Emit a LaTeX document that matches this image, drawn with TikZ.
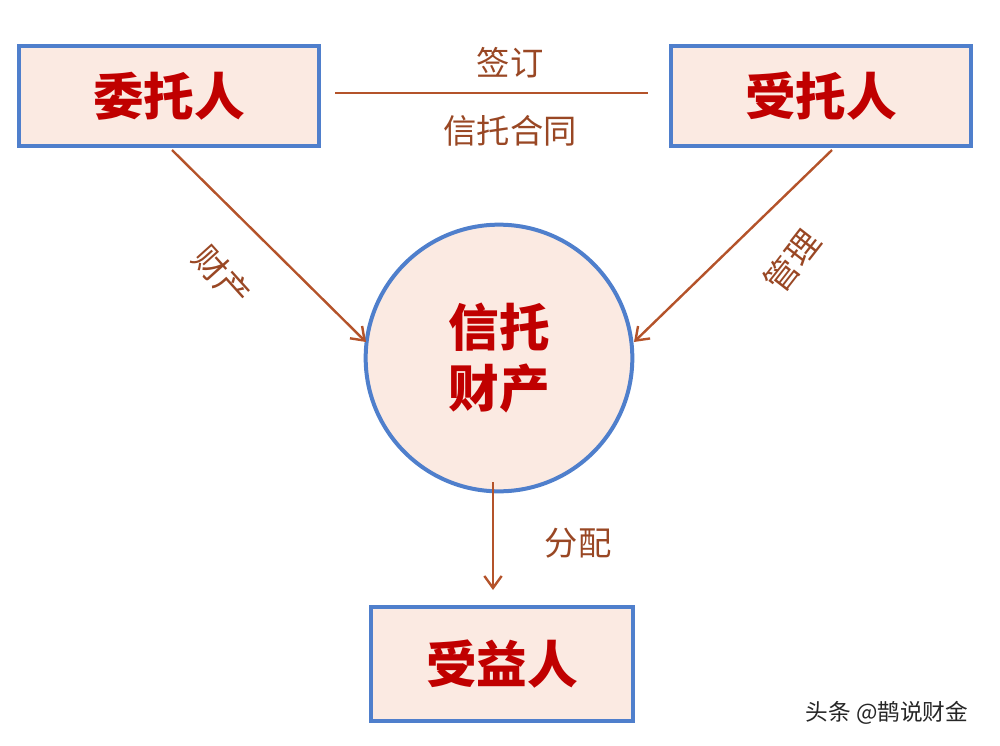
\documentclass[tikz,border=0pt]{standalone}
\usepackage{fontspec}
\usetikzlibrary{arrows.meta}
\newfontfamily\cjk{Noto Sans CJK SC}
\definecolor{bfill}{HTML}{FBEAE2}
\definecolor{bline}{HTML}{4F7FCC}
\definecolor{tred}{HTML}{C00000}
\definecolor{abrown}{HTML}{B4532A}
\begin{document}
\begin{tikzpicture}[x=0.75pt,y=-0.75pt,
  box/.style={draw=bline,line width=3pt,fill=bfill,font=\cjk\bfseries\fontsize{38}{42}\selectfont,text=tred},
  arr/.style={draw=abrown,line width=1.8pt,-{Straight Barb[length=9pt,width=13pt]}},
  lbl/.style={font=\cjk\fontsize{25}{28}\selectfont,text=abrown!85!black}]
\useasboundingbox (0,0) rectangle (1000,746);
\node[box,minimum width=225pt,minimum height=75pt] (wt) at (169,96) {委托人};
\node[box,minimum width=225pt,minimum height=75pt] (st) at (821,96) {受托人};
\node[box,circle,minimum size=200pt,inner sep=0pt,align=center,font=\cjk\bfseries\fontsize{38}{46}\selectfont] (cc) at (499,358) {信托\\财产};
\node[box,minimum width=197pt,minimum height=85pt] (sy) at (502,664) {受益人};
\draw[abrown,line width=1.8pt] (335,93) coordinate (l1) -- (648,93) coordinate (l2);
\node[lbl] (qd) at (510,63) {签订};
\node[lbl] (xt) at (510,131) {信托合同};
\coordinate (s1) at (172,150);
\coordinate (s2) at (832,150);
\coordinate (s3) at (493,482);
\coordinate (e3) at (493,590);
\coordinate (e1) at (366,342);
\coordinate (e2) at (634,342);
\draw[arr] (s1) -- (e1);
\draw[arr] (s2) -- (e2);
\draw[arr] (s3) -- (e3);
\node[lbl,rotate=-48] (cc1) at (222,276) {财产};
\node[lbl,rotate=52] (gl) at (792,261) {管理};
\node[lbl] (fp) at (578,543) {分配};
\node[font=\cjk\fontsize{17}{19}\selectfont,text=black!85] (wm) at (887,713) {头条 @鹊说财金};
\end{tikzpicture}
\end{document}
